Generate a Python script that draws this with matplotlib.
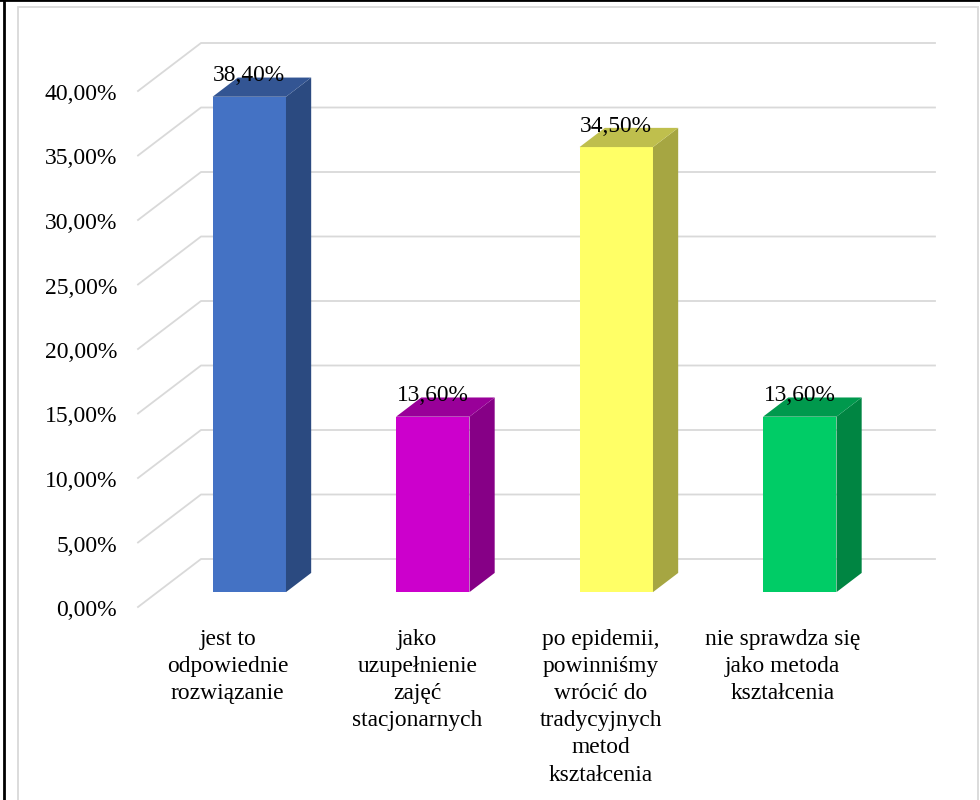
import matplotlib
matplotlib.use('Agg')
import matplotlib.pyplot as plt
from matplotlib.lines import Line2D
from matplotlib.patches import Rectangle
from matplotlib.transforms import ScaledTranslation

categories = [
    'jest to\nodpowiednie\nrozwiązanie',
    'jako\nuzupełnienie\nzajęć\nstacjonarnych',
    'po epidemii,\npowinniśmy\nwrócić do\ntradycyjnych\nmetod\nkształcenia',
    'nie sprawdza się\njako metoda\nkształcenia',
]
values = [38.4, 13.6, 34.5, 13.6]
y_ticks = [0, 5, 10, 15, 20, 25, 30, 35, 40]

front_colors = ['#4472C4', '#CC00CC', '#FFFF66', '#00CC66']
side_colors = ['#2B4A80', '#860086', '#A6A642', '#008542']
top_colors = ['#335593', '#990099', '#BFBF4D', '#00994D']

# small horizontal nudges of the category labels, in pixels
label_nudge = [-2, 4, 4, 2]

W, H = 980, 800
GRID = '#D9D9D9'

# depth of the fake 3d floor, in data units
DEPTH_X = 63 / 183.5
DEPTH_Y = 48 / 12.9
BAR_HALF = 0.2
BAR_D0 = 0.31
BAR_D1 = 0.71


def pct(v):
    return f'{v:.2f}'.replace('.', ',') + '%'


def main():
    plt.rcParams['font.family'] = ['Liberation Serif', 'DejaVu Serif']
    plt.rcParams['font.size'] = 16.8

    fig = plt.figure(figsize=(W / 100, H / 100), dpi=100, facecolor='white')
    ax = fig.add_axes([138 / W, (H - 607) / H, 734 / W, 516 / H])
    ax.set_xlim(-0.5, 3.5)
    ax.set_ylim(0, 40)
    ax.patch.set_visible(False)
    for s in ax.spines.values():
        s.set_visible(False)

    # outer frames
    fig.add_artist(Rectangle((18 / W, -0.02), 960 / W, (H - 7) / H + 0.02, transform=fig.transFigure,
                             fill=False, edgecolor=GRID, linewidth=1.3))
    fig.add_artist(Line2D([4 / W, 4 / W], [0, 1], transform=fig.transFigure, color='black', linewidth=2))
    fig.add_artist(Line2D([0, 1], [1, 1], transform=fig.transFigure, color='black', linewidth=2))

    # floor/wall gridlines
    for v in y_ticks:
        ax.plot([-0.5, -0.5 + DEPTH_X, 3.5 + DEPTH_X], [v, v + DEPTH_Y, v + DEPTH_Y],
                color=GRID, linewidth=1.3, clip_on=False, zorder=1)

    for i, v in enumerate(values):
        x0 = i - BAR_HALF + BAR_D0 * DEPTH_X
        x1 = i + BAR_HALF + BAR_D0 * DEPTH_X
        y0 = BAR_D0 * DEPTH_Y
        y1 = v + y0
        dx = (BAR_D1 - BAR_D0) * DEPTH_X
        dy = (BAR_D1 - BAR_D0) * DEPTH_Y
        ax.fill([x0, x1, x1, x0], [y0, y0, y1, y1], color=front_colors[i], linewidth=0, clip_on=False, zorder=3)
        ax.fill([x1, x1 + dx, x1 + dx, x1], [y0, y0 + dy, y1 + dy, y1], color=side_colors[i], linewidth=0,
                clip_on=False, zorder=3)
        ax.fill([x0, x1, x1 + dx, x0 + dx], [y1, y1, y1 + dy, y1 + dy], color=top_colors[i], linewidth=0,
                clip_on=False, zorder=3)
        ax.annotate(pct(v), ((x0 + x1) / 2, y1), xytext=(0, 11), textcoords='offset points',
                    ha='center', va='baseline', color='black', zorder=4, annotation_clip=False)

    ax.set_yticks(y_ticks)
    ax.set_yticklabels([pct(v) for v in y_ticks], fontsize=17)
    ax.set_xticks(range(len(categories)))
    ax.set_xticklabels(categories, linespacing=1.39, fontsize=16.9)
    ax.tick_params(axis='y', length=0, pad=15)
    ax.tick_params(axis='x', length=0, pad=15.5)

    for lab in ax.get_yticklabels():
        lab.set_transform(lab.get_transform() + ScaledTranslation(0, -1 / 100, fig.dpi_scale_trans))
    for lab, n in zip(ax.get_xticklabels(), label_nudge):
        lab.set_transform(lab.get_transform() + ScaledTranslation(n / 100, 0, fig.dpi_scale_trans))

    plt.savefig('out.png', dpi=100, facecolor='white')
    plt.close()


if __name__ == '__main__':
    main()
